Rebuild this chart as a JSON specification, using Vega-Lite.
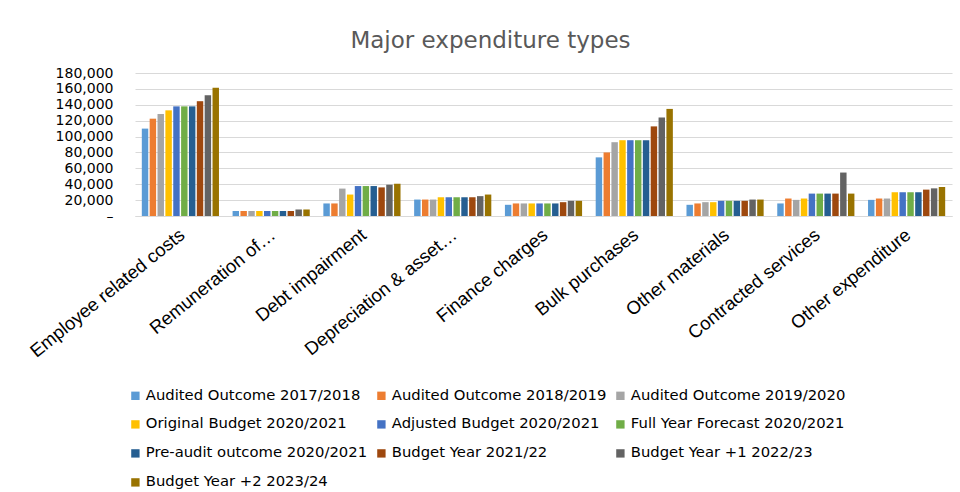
{
  "$schema": "https://vega.github.io/schema/vega-lite/v6.json",
  "width": 817,
  "height": 143,
  "autosize": {"type": "none"},
  "padding": {"left": 135, "top": 73, "right": 8, "bottom": 276},
  "background": "white",
  "title": {
    "text": "Major expenditure types",
    "font": "DejaVu Sans",
    "fontSize": 23,
    "fontWeight": "normal",
    "color": "#595959",
    "anchor": "middle",
    "dx": -53,
    "offset": 13
  },
  "config": {
    "view": {"stroke": null},
    "axis": {"grid": false}
  },
  "data": {
    "values": [
      {"c": "Employee related costs", "s": "Audited Outcome 2017/2018", "v": 110000},
      {"c": "Employee related costs", "s": "Audited Outcome 2018/2019", "v": 122500},
      {"c": "Employee related costs", "s": "Audited Outcome 2019/2020", "v": 128500},
      {"c": "Employee related costs", "s": "Original Budget 2020/2021", "v": 133000},
      {"c": "Employee related costs", "s": "Adjusted Budget 2020/2021", "v": 138000},
      {"c": "Employee related costs", "s": "Full Year Forecast 2020/2021", "v": 138000},
      {"c": "Employee related costs", "s": "Pre-audit outcome 2020/2021", "v": 138000},
      {"c": "Employee related costs", "s": "Budget Year 2021/22", "v": 144500},
      {"c": "Employee related costs", "s": "Budget Year +1 2022/23", "v": 152000},
      {"c": "Employee related costs", "s": "Budget Year +2 2023/24", "v": 161500},
      {"c": "Remuneration of councillors", "s": "Audited Outcome 2017/2018", "v": 6300},
      {"c": "Remuneration of councillors", "s": "Audited Outcome 2018/2019", "v": 6300},
      {"c": "Remuneration of councillors", "s": "Audited Outcome 2019/2020", "v": 6300},
      {"c": "Remuneration of councillors", "s": "Original Budget 2020/2021", "v": 6300},
      {"c": "Remuneration of councillors", "s": "Adjusted Budget 2020/2021", "v": 6300},
      {"c": "Remuneration of councillors", "s": "Full Year Forecast 2020/2021", "v": 6300},
      {"c": "Remuneration of councillors", "s": "Pre-audit outcome 2020/2021", "v": 6300},
      {"c": "Remuneration of councillors", "s": "Budget Year 2021/22", "v": 6300},
      {"c": "Remuneration of councillors", "s": "Budget Year +1 2022/23", "v": 8200},
      {"c": "Remuneration of councillors", "s": "Budget Year +2 2023/24", "v": 8200},
      {"c": "Debt impairment", "s": "Audited Outcome 2017/2018", "v": 15800},
      {"c": "Debt impairment", "s": "Audited Outcome 2018/2019", "v": 15800},
      {"c": "Debt impairment", "s": "Audited Outcome 2019/2020", "v": 34500},
      {"c": "Debt impairment", "s": "Original Budget 2020/2021", "v": 27000},
      {"c": "Debt impairment", "s": "Adjusted Budget 2020/2021", "v": 37700},
      {"c": "Debt impairment", "s": "Full Year Forecast 2020/2021", "v": 37700},
      {"c": "Debt impairment", "s": "Pre-audit outcome 2020/2021", "v": 37700},
      {"c": "Debt impairment", "s": "Budget Year 2021/22", "v": 36000},
      {"c": "Debt impairment", "s": "Budget Year +1 2022/23", "v": 39400},
      {"c": "Debt impairment", "s": "Budget Year +2 2023/24", "v": 40600},
      {"c": "Depreciation & asset impairment", "s": "Audited Outcome 2017/2018", "v": 20700},
      {"c": "Depreciation & asset impairment", "s": "Audited Outcome 2018/2019", "v": 20700},
      {"c": "Depreciation & asset impairment", "s": "Audited Outcome 2019/2020", "v": 20700},
      {"c": "Depreciation & asset impairment", "s": "Original Budget 2020/2021", "v": 23600},
      {"c": "Depreciation & asset impairment", "s": "Adjusted Budget 2020/2021", "v": 23600},
      {"c": "Depreciation & asset impairment", "s": "Full Year Forecast 2020/2021", "v": 23600},
      {"c": "Depreciation & asset impairment", "s": "Pre-audit outcome 2020/2021", "v": 23600},
      {"c": "Depreciation & asset impairment", "s": "Budget Year 2021/22", "v": 23600},
      {"c": "Depreciation & asset impairment", "s": "Budget Year +1 2022/23", "v": 25000},
      {"c": "Depreciation & asset impairment", "s": "Budget Year +2 2023/24", "v": 27000},
      {"c": "Finance charges", "s": "Audited Outcome 2017/2018", "v": 14100},
      {"c": "Finance charges", "s": "Audited Outcome 2018/2019", "v": 15800},
      {"c": "Finance charges", "s": "Audited Outcome 2019/2020", "v": 15800},
      {"c": "Finance charges", "s": "Original Budget 2020/2021", "v": 15800},
      {"c": "Finance charges", "s": "Adjusted Budget 2020/2021", "v": 15800},
      {"c": "Finance charges", "s": "Full Year Forecast 2020/2021", "v": 15800},
      {"c": "Finance charges", "s": "Pre-audit outcome 2020/2021", "v": 15800},
      {"c": "Finance charges", "s": "Budget Year 2021/22", "v": 17400},
      {"c": "Finance charges", "s": "Budget Year +1 2022/23", "v": 19100},
      {"c": "Finance charges", "s": "Budget Year +2 2023/24", "v": 19100},
      {"c": "Bulk purchases", "s": "Audited Outcome 2017/2018", "v": 73800},
      {"c": "Bulk purchases", "s": "Audited Outcome 2018/2019", "v": 80000},
      {"c": "Bulk purchases", "s": "Audited Outcome 2019/2020", "v": 92900},
      {"c": "Bulk purchases", "s": "Original Budget 2020/2021", "v": 95400},
      {"c": "Bulk purchases", "s": "Adjusted Budget 2020/2021", "v": 95400},
      {"c": "Bulk purchases", "s": "Full Year Forecast 2020/2021", "v": 95400},
      {"c": "Bulk purchases", "s": "Pre-audit outcome 2020/2021", "v": 95400},
      {"c": "Bulk purchases", "s": "Budget Year 2021/22", "v": 112800},
      {"c": "Bulk purchases", "s": "Budget Year +1 2022/23", "v": 124000},
      {"c": "Bulk purchases", "s": "Budget Year +2 2023/24", "v": 134800},
      {"c": "Other materials", "s": "Audited Outcome 2017/2018", "v": 14100},
      {"c": "Other materials", "s": "Audited Outcome 2018/2019", "v": 15800},
      {"c": "Other materials", "s": "Audited Outcome 2019/2020", "v": 17400},
      {"c": "Other materials", "s": "Original Budget 2020/2021", "v": 17400},
      {"c": "Other materials", "s": "Adjusted Budget 2020/2021", "v": 19100},
      {"c": "Other materials", "s": "Full Year Forecast 2020/2021", "v": 19100},
      {"c": "Other materials", "s": "Pre-audit outcome 2020/2021", "v": 19100},
      {"c": "Other materials", "s": "Budget Year 2021/22", "v": 19100},
      {"c": "Other materials", "s": "Budget Year +1 2022/23", "v": 20700},
      {"c": "Other materials", "s": "Budget Year +2 2023/24", "v": 20700},
      {"c": "Contracted services", "s": "Audited Outcome 2017/2018", "v": 15800},
      {"c": "Contracted services", "s": "Audited Outcome 2018/2019", "v": 22000},
      {"c": "Contracted services", "s": "Audited Outcome 2019/2020", "v": 20300},
      {"c": "Contracted services", "s": "Original Budget 2020/2021", "v": 22000},
      {"c": "Contracted services", "s": "Adjusted Budget 2020/2021", "v": 28200},
      {"c": "Contracted services", "s": "Full Year Forecast 2020/2021", "v": 28200},
      {"c": "Contracted services", "s": "Pre-audit outcome 2020/2021", "v": 28200},
      {"c": "Contracted services", "s": "Budget Year 2021/22", "v": 28200},
      {"c": "Contracted services", "s": "Budget Year +1 2022/23", "v": 54700},
      {"c": "Contracted services", "s": "Budget Year +2 2023/24", "v": 28200},
      {"c": "Other expenditure", "s": "Audited Outcome 2017/2018", "v": 20300},
      {"c": "Other expenditure", "s": "Audited Outcome 2018/2019", "v": 22000},
      {"c": "Other expenditure", "s": "Audited Outcome 2019/2020", "v": 22000},
      {"c": "Other expenditure", "s": "Original Budget 2020/2021", "v": 29900},
      {"c": "Other expenditure", "s": "Adjusted Budget 2020/2021", "v": 29900},
      {"c": "Other expenditure", "s": "Full Year Forecast 2020/2021", "v": 29900},
      {"c": "Other expenditure", "s": "Pre-audit outcome 2020/2021", "v": 29900},
      {"c": "Other expenditure", "s": "Budget Year 2021/22", "v": 33200},
      {"c": "Other expenditure", "s": "Budget Year +1 2022/23", "v": 34800},
      {"c": "Other expenditure", "s": "Budget Year +2 2023/24", "v": 36500}
    ]
  },
  "mark": {"type": "bar"},
  "encoding": {
    "x": {
      "field": "c",
      "type": "nominal",
      "sort": null,
      "title": null,
      "scale": {"paddingInner": 0.15, "paddingOuter": 0.075},
      "axis": {
        "labelAngle": -39,
        "labelFont": "Liberation Sans",
        "labelFontSize": 18.5,
        "labelColor": "#000000",
        "labelPadding": 9,
        "labelOffset": -4,
        "labelLimit": 400,
        "ticks": false,
        "domainColor": "#D9D9D9",
        "domainWidth": 1,
        "labelExpr": "datum.value == 'Remuneration of councillors' ? 'Remuneration of…' : datum.value == 'Depreciation & asset impairment' ? 'Depreciation & asset…' : datum.value"
      }
    },
    "xOffset": {
      "field": "s",
      "type": "nominal",
      "sort": ["Audited Outcome 2017/2018", "Audited Outcome 2018/2019", "Audited Outcome 2019/2020", "Original Budget 2020/2021", "Adjusted Budget 2020/2021", "Full Year Forecast 2020/2021", "Pre-audit outcome 2020/2021", "Budget Year 2021/22", "Budget Year +1 2022/23", "Budget Year +2 2023/24"],
      "scale": {"paddingInner": 0.18}
    },
    "y": {
      "field": "v",
      "type": "quantitative",
      "title": null,
      "scale": {"domain": [0, 180000], "nice": false},
      "axis": {
        "values": [0, 20000, 40000, 60000, 80000, 100000, 120000, 140000, 160000, 180000],
        "grid": true,
        "gridColor": "#D9D9D9",
        "gridWidth": 1,
        "domain": false,
        "ticks": false,
        "labelFont": "DejaVu Sans",
        "labelFontSize": 14,
        "labelColor": "#000000",
        "labelPadding": 22,
        "labelExpr": "datum.value == 0 ? '–' : format(datum.value, ',')"
      }
    },
    "color": {
      "field": "s",
      "type": "nominal",
      "title": null,
      "scale": {
        "domain": ["Audited Outcome 2017/2018", "Audited Outcome 2018/2019", "Audited Outcome 2019/2020", "Original Budget 2020/2021", "Adjusted Budget 2020/2021", "Full Year Forecast 2020/2021", "Pre-audit outcome 2020/2021", "Budget Year 2021/22", "Budget Year +1 2022/23", "Budget Year +2 2023/24"],
        "range": ["#5B9BD5", "#ED7D31", "#A5A5A5", "#FFC000", "#4472C4", "#70AD47", "#255E91", "#9E480E", "#636363", "#997300"]
      },
      "legend": {
        "orient": "none",
        "legendX": -7,
        "legendY": 315,
        "direction": "horizontal",
        "columns": 3,
        "gridAlign": "each",
        "columnPadding": 6,
        "rowPadding": 13,
        "symbolType": "square",
        "symbolSize": 70,
        "symbolStrokeWidth": 0,
        "labelFont": "DejaVu Sans",
        "labelFontSize": 14.8,
        "labelColor": "#000000",
        "labelOffset": 3,
        "labelLimit": 400
      }
    }
  }
}
